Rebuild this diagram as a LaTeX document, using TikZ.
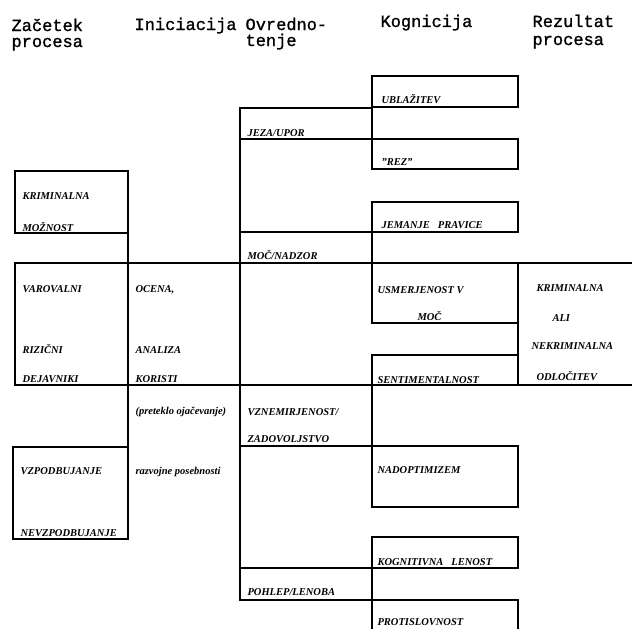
\documentclass[tikz,border=0pt]{standalone}
\usepackage{fontspec}
\setmainfont{Liberation Serif}
\newfontfamily\hdfont[FakeBold=1.2]{Liberation Mono}
\usepackage{tikz}

\tikzset{
  lbl/.style={anchor=base west, inner sep=0pt,
    font=\fontsize{10.5}{12}\selectfont\bfseries\itshape},
  hd/.style={anchor=base west, inner sep=0pt,
    font=\hdfont\fontsize{17}{18}\selectfont},
}

\begin{document}
\begin{tikzpicture}[x=1pt, y=-1pt, line width=1.1pt]
    \useasboundingbox (0,0) rectangle (632,629);
    \clip (0,0) rectangle (632,629);

    % column heads
    \node[hd] (hStart) at (11,31) {Začetek};
    \node[hd] (hStartB) at (11,47) {procesa};
    \node[hd] (hInit) at (134,30) {Iniciacija};
    \node[hd] (hEval) at (245,30) {Ovredno-};
    \node[hd] (hEvalB) at (245,46) {tenje};
    \node[hd] (hCogn) at (380,27) {Kognicija};
    \node[hd] (hRes) at (532,27) {Rezultat};
    \node[hd] (hResB) at (532,45) {procesa};

    % zacetek procesa
    \draw (15,171) rectangle (128,233);
    \draw (15,263) rectangle (128,385);
    \draw (13,447) rectangle (128,539);
    \draw (128,233) -- (128,539);
    \draw (15,263) -- (632,263);
    \draw (15,385) -- (632,385);

    % ovrednotenje
    \draw (240,108) -- (240,600);
    \draw (240,108) rectangle (372,139);
    \draw (240,232) rectangle (372,263);
    \draw (240,385) rectangle (372,446);
    \draw (240,568) rectangle (372,600);

    % kognicija
    \foreach \t/\b in {76/107, 139/169, 202/232, 263/323, 355/385,
                       446/507, 537/568, 600/640}
        \draw (372,\t) rectangle (518,\b);
    \foreach \t/\b in {107/139, 232/263, 385/446, 568/600}
        \draw (372,\t) -- (372,\b);
    \draw (518,323) -- (518,355);

    % labels
    \node[lbl] (crimA) at (22,199) {KRIMINALNA};
    \node[lbl] (crimB) at (22,231) {MOŽNOST};
    \node[lbl] (riskA) at (22,292) {VAROVALNI};
    \node[lbl] (riskB) at (22,353) {RIZIČNI};
    \node[lbl] (riskC) at (22,382) {DEJAVNIKI};
    \node[lbl] (stimA) at (20,474) {VZPODBUJANJE};
    \node[lbl] (stimB) at (20,536) {NEVZPODBUJANJE};

    \node[lbl] (initA) at (135,292) {OCENA,};
    \node[lbl] (initB) at (135,353) {ANALIZA};
    \node[lbl] (initC) at (135,382) {KORISTI};
    \node[lbl] (initD) at (135,414) {(preteklo ojačevanje)};
    \node[lbl] (initE) at (135,474) {razvojne posebnosti};

    \node[lbl] (evalA) at (247,136) {JEZA/UPOR};
    \node[lbl] (evalB) at (247,259) {MOČ/NADZOR};
    \node[lbl] (evalC) at (247,415) {VZNEMIRJENOST/};
    \node[lbl] (evalD) at (247,442) {ZADOVOLJSTVO};
    \node[lbl] (evalE) at (247,595) {POHLEP/LENOBA};

    \node[lbl] (cognA) at (381,103) {UBLAŽITEV};
    \node[lbl] (cognB) at (381,165) {"REZ"};
    \node[lbl] (cognC) at (381,228) {JEMANJE\ \ \ PRAVICE};
    \node[lbl] (cognD) at (377,293) {USMERJENOST V};
    \node[lbl] (cognE) at (417,320) {MOČ};
    \node[lbl] (cognF) at (377,383) {SENTIMENTALNOST};
    \node[lbl] (cognG) at (377,473) {NADOPTIMIZEM};
    \node[lbl] (cognH) at (377,565) {KOGNITIVNA\ \ \ LENOST};
    \node[lbl] (cognI) at (377,625) {PROTISLOVNOST};

    \node[lbl] (resA) at (536,291) {KRIMINALNA};
    \node[lbl] (resB) at (552,321) {ALI};
    \node[lbl] (resC) at (531,349) {NEKRIMINALNA};
    \node[lbl] (resD) at (536,380) {ODLOČITEV};
\end{tikzpicture}
\end{document}
